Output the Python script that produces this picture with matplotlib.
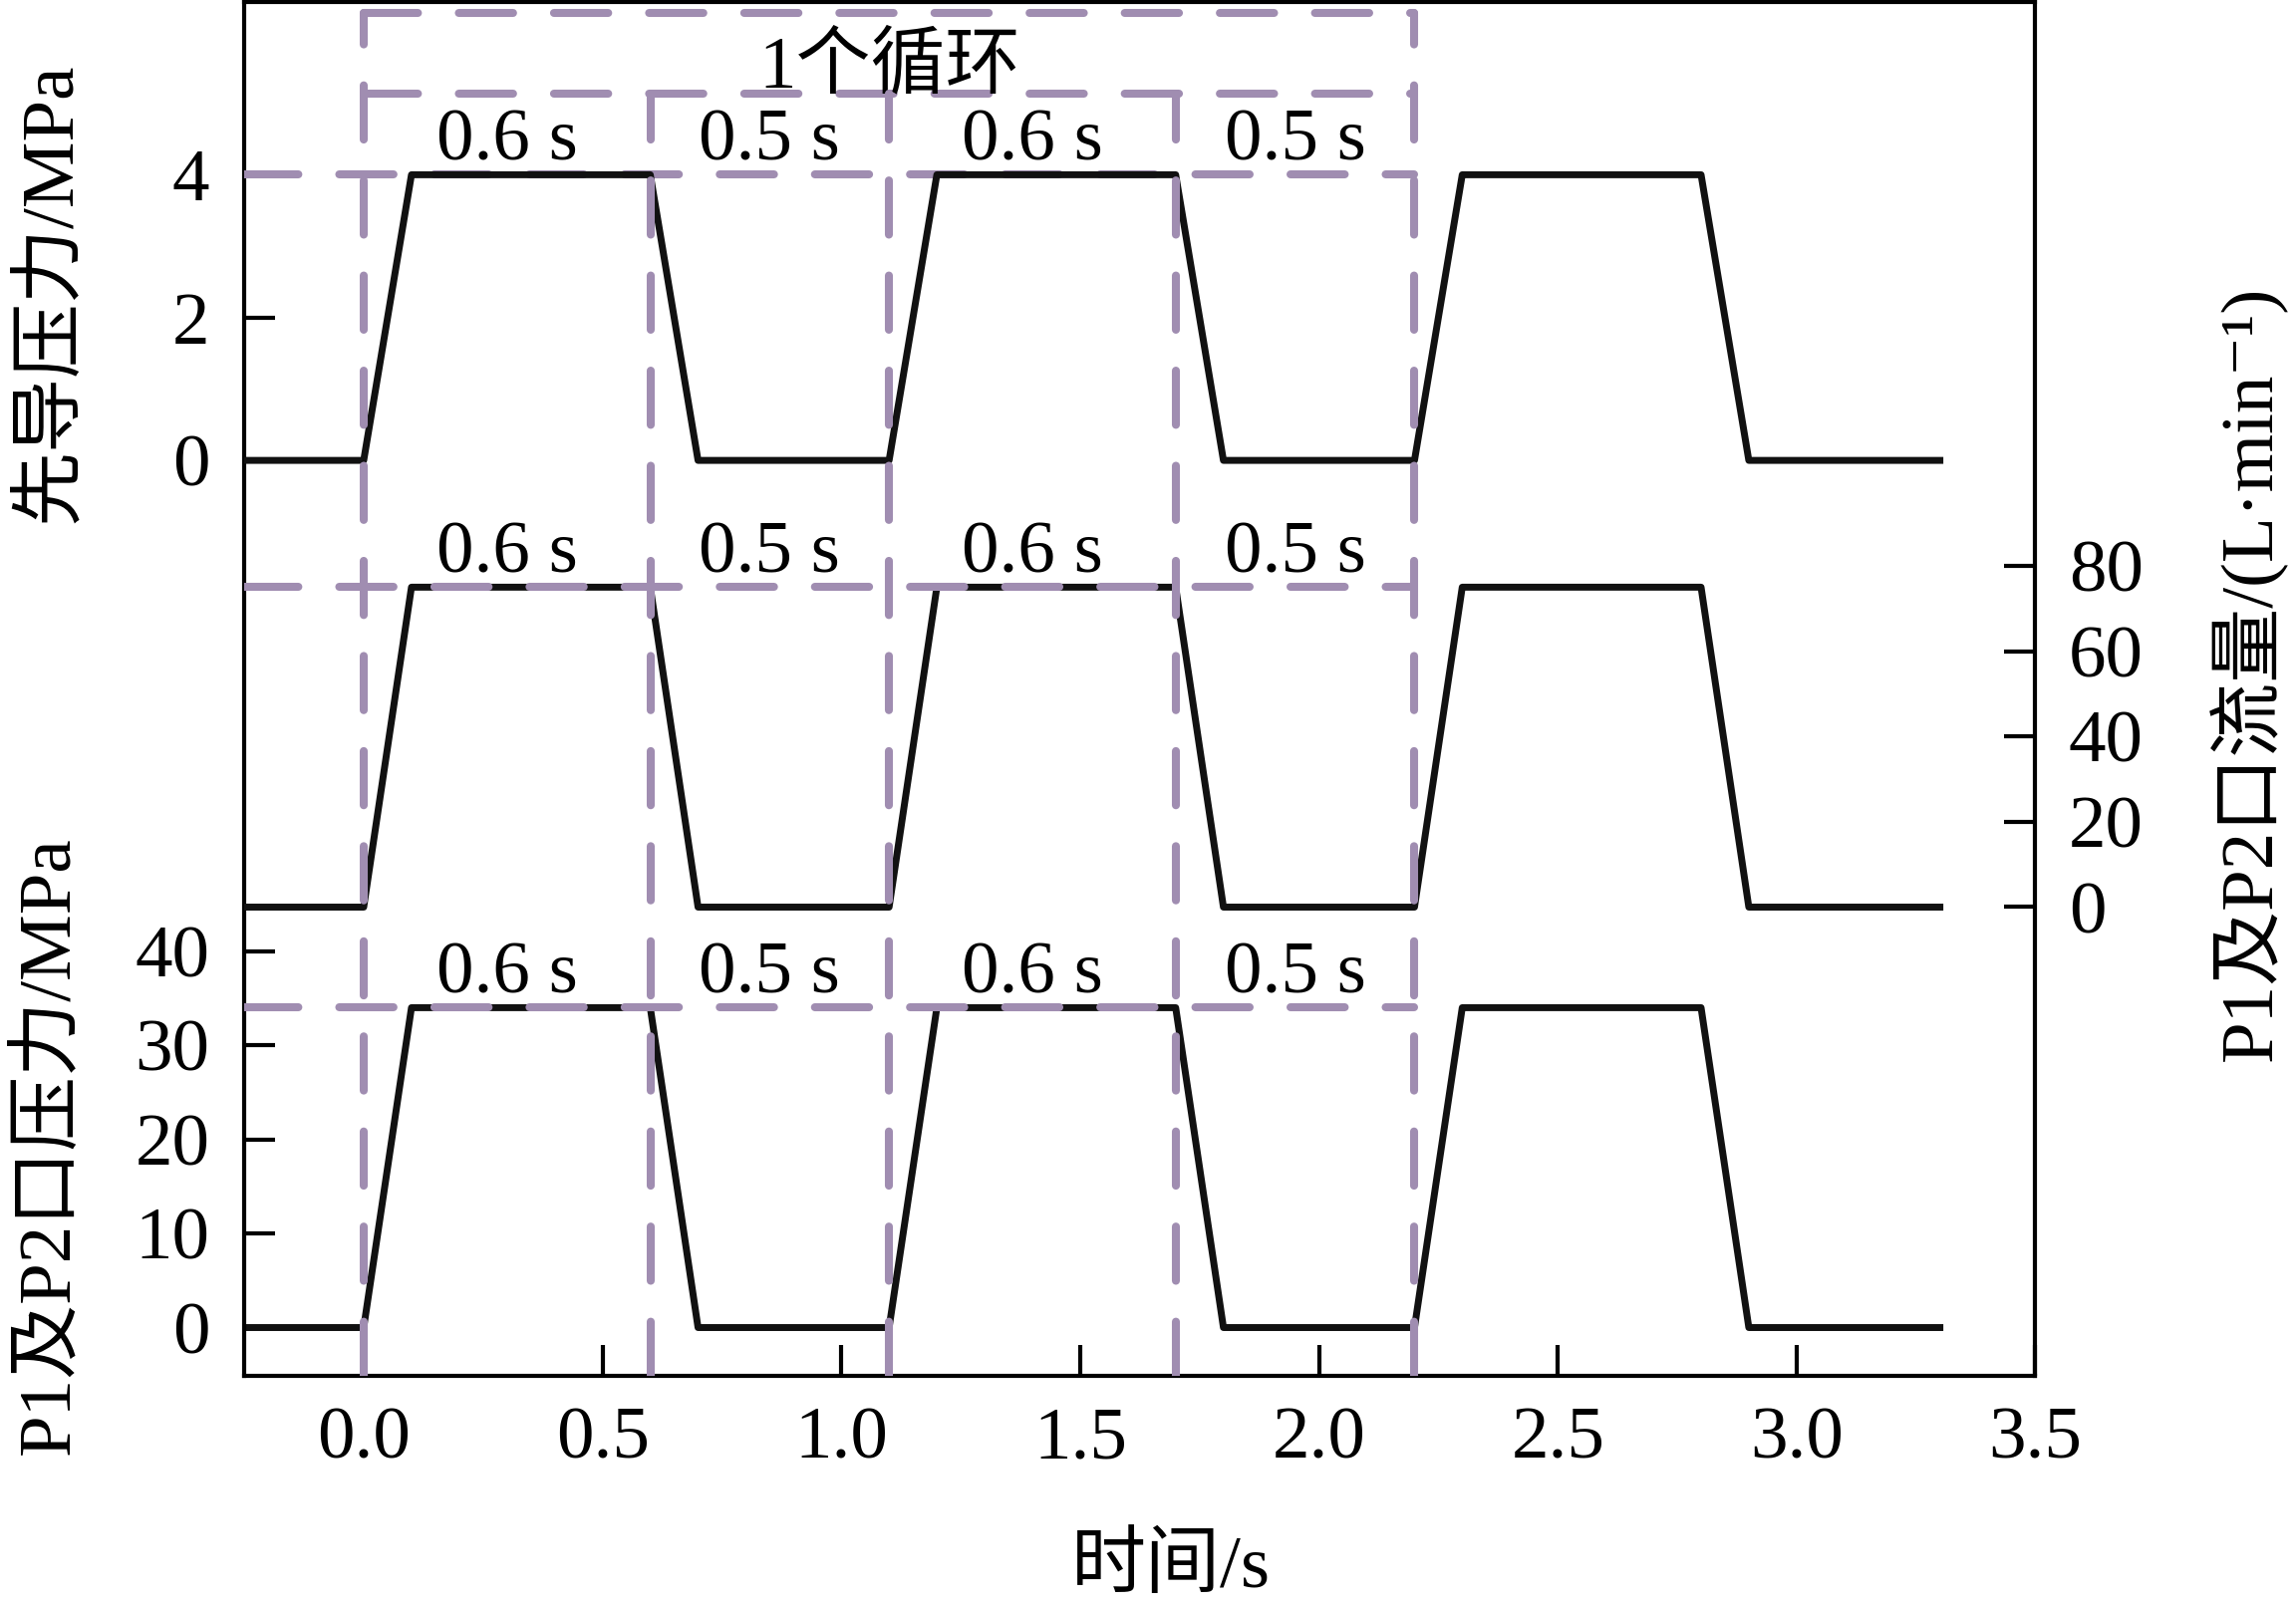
import matplotlib.pyplot as plt

plt.rcParams['font.family'] = ['Liberation Serif', 'Noto Sans CJK SC', 'DejaVu Serif']

# trapezoid test cycle
t = [-0.25, 0.0, 0.1, 0.6, 0.7, 1.1, 1.2, 1.7, 1.8, 2.2, 2.3, 2.8, 2.9, 3.3]
pilot = [0, 0, 4, 4, 0, 0, 4, 4, 0, 0, 4, 4, 0, 0]        # MPa
flow = [0, 0, 75, 75, 0, 0, 75, 75, 0, 0, 75, 75, 0, 0]     # L/min
port_p = [0, 0, 34, 34, 0, 0, 34, 34, 0, 0, 34, 34, 0, 0]   # MPa

marks = [0.0, 0.6, 1.1, 1.7, 2.2]          # dashed verticals (s)
phase_labels = ['0.6 s', '0.5 s', '0.6 s', '0.5 s']
cycle_label = '1个循环'

x_ticks = [0.0, 0.5, 1.0, 1.5, 2.0, 2.5, 3.0, 3.5]
pilot_ticks = [0, 2, 4]
flow_ticks = [0, 20, 40, 60, 80]
port_ticks = [0, 10, 20, 30, 40]

# axis limits chosen so the three traces stack in one frame
XLIM = (-0.25, 3.5)
TOP_LIM = (-12.82, 6.42)
MID_LIM = (-109.9, 212.2)
BOT_LIM = (-5.14, 140.9)
OUTER = 6.26   # "1个循环" bracket, pilot units
INNER = 5.13   # phase bracket, pilot units

PURPLE = '#a08db1'
DASH = (0, (6.75, 5.1))
DLW = 5.8
FS = 54

fig = plt.figure(figsize=(23.04, 16.13), dpi=100)
rect = [0.1064, 0.1438, 0.7801, 0.855]
ax_bot = fig.add_axes(rect)
ax_mid = fig.add_axes(rect)
ax_top = fig.add_axes(rect)

for ax in (ax_mid, ax_top):
    ax.patch.set_visible(False)
    for s in ax.spines.values():
        s.set_visible(False)
    ax.tick_params(axis='x', bottom=False, labelbottom=False)
for s in ax_bot.spines.values():
    s.set_linewidth(3)

for ax, lim in ((ax_bot, BOT_LIM), (ax_mid, MID_LIM), (ax_top, TOP_LIM)):
    ax.set_xlim(*XLIM)
    ax.set_ylim(*lim)

# traces
ax_top.plot(t, pilot, color='#111111', lw=5, zorder=3)
ax_mid.plot(t, flow, color='#111111', lw=5, zorder=2)
ax_bot.plot(t, port_p, color='#111111', lw=5, zorder=2)

# dashed guide lines
dash_kw = dict(colors=PURPLE, lw=DLW, linestyles=DASH, capstyle='round')
ax_top.hlines(4, XLIM[0], marks[-1], zorder=2, **dash_kw)
ax_mid.hlines(75, XLIM[0], marks[-1], zorder=3, **dash_kw)
ax_bot.hlines(34, XLIM[0], marks[-1], zorder=3, **dash_kw)
ax_top.hlines([OUTER, INNER], marks[0], marks[-1], zorder=2, **dash_kw)
tops = [OUTER, INNER, INNER, INNER, OUTER]
ax_top.vlines(marks, TOP_LIM[0], tops, zorder=4, **dash_kw)

# phase duration labels
mids = [(a + b) / 2 for a, b in zip(marks[:-1], marks[1:])]
for ax, level in ((ax_top, 4), (ax_mid, 75), (ax_bot, 34)):
    for m, lab in zip(mids, phase_labels):
        ax.annotate(lab, (m, level), xytext=(0, 11), textcoords='offset points',
                    ha='center', va='baseline', fontsize=FS)
ax_top.annotate(cycle_label, (marks[2], INNER), xytext=(0, 5), textcoords='offset points',
                ha='center', va='baseline', fontsize=FS)

# ticks
ax_bot.set_xticks(x_ticks)
ax_bot.set_xticklabels([f'{v:.1f}' for v in x_ticks])
ax_bot.tick_params(axis='x', direction='in', length=22, width=3, pad=22, labelsize=FS, top=False)
ax_bot.set_yticks(port_ticks)
ax_bot.tick_params(axis='y', direction='in', length=22, width=3, pad=25, labelsize=FS, right=False)
ax_top.set_yticks(pilot_ticks)
ax_top.tick_params(axis='y', direction='in', length=22, width=3, pad=25, labelsize=FS, right=False)
ax_mid.set_yticks(flow_ticks)
ax_mid.yaxis.tick_right()
ax_mid.tick_params(axis='y', direction='in', length=22, width=3, pad=24, labelsize=FS,
                   left=False, labelleft=False)

# axis titles
fig.text(0.022, 0.818, '先导压力/MPa', rotation=90, ha='center', va='center', fontsize=FS)
fig.text(0.022, 0.287, 'P1及P2口压力/MPa', rotation=90, ha='center', va='center', fontsize=FS)
fig.text(0.979, 0.581, 'P1及P2口流量/(L·min⁻¹)', rotation=90, ha='center', va='center', fontsize=FS)
fig.text(0.51, 0.024, '时间/s', ha='center', va='center', fontsize=FS)

fig.savefig('out.png', dpi=100)
